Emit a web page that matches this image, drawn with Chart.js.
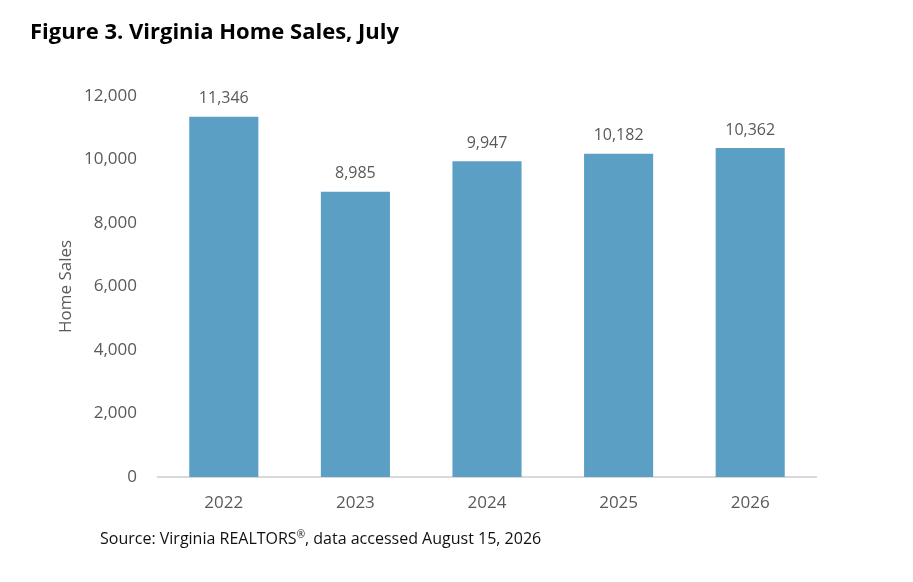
<!DOCTYPE html>
<html>
<head>
<meta charset="utf-8">
<script src="https://cdn.jsdelivr.net/npm/chart.js@4/dist/chart.umd.min.js"></script>
<style>
  html, body { margin: 0; padding: 0; background: #fff; }
  body { width: 913px; height: 582px; position: relative; overflow: hidden; font-family: "Open Sans", sans-serif; }
  #chartTitle { position: absolute; left: 30px; top: 15px; font-size: 22px; font-weight: bold; color: #000; white-space: nowrap; }
  #chartSource { position: absolute; left: 100px; top: 527px; font-size: 16px; color: #111; white-space: nowrap; }
  #chartBox { position: absolute; left: 0; top: 0; width: 913px; height: 582px; }
</style>
</head>
<body>
<div id="chartBox"><canvas id="salesChart"></canvas></div>
<div id="chartTitle">Figure 3. Virginia Home Sales, July</div>
<div id="chartSource">Source: Virginia REALTORS<sup style="font-size:10px">®</sup>, data accessed August 15, 2026</div>
<script>
const years = ["2022", "2023", "2024", "2025", "2026"];
const homeSales = [11346, 8985, 9947, 10182, 10362];
const yTicks = [0, 2000, 4000, 6000, 8000, 10000, 12000];

const tickColor = "#595959";
const barColor = "#5b9fc5";

// value labels above each bar
const barValueLabels = {
  id: "barValueLabels",
  afterDatasetsDraw(chart) {
    const ctx = chart.ctx;
    const meta = chart.getDatasetMeta(0);
    ctx.save();
    ctx.font = '16px "Open Sans"';
    ctx.fillStyle = tickColor;
    ctx.textAlign = "center";
    ctx.textBaseline = "middle";
    meta.data.forEach((bar, i) => {
      ctx.fillText(homeSales[i].toLocaleString("en-US"), bar.x, bar.y - 18);
    });
    ctx.restore();
  },
};

new Chart(document.getElementById("salesChart"), {
  type: "bar",
  data: {
    labels: years,
    datasets: [{
      label: "Home Sales",
      data: homeSales,
      backgroundColor: barColor,
      borderWidth: 0,
      categoryPercentage: 1,
      barPercentage: 0.525,
    }],
  },
  options: {
    responsive: true,
    maintainAspectRatio: false,
    animation: false,
    layout: { padding: { left: 0, top: 96, right: 97, bottom: 65 } },
    plugins: { legend: { display: false }, tooltip: { enabled: false } },
    scales: {
      x: {
        grid: { display: false },
        border: { display: true, color: "#d9d9d9", width: 2 },
        ticks: { color: tickColor, font: { family: "Open Sans", size: 17 }, padding: 8 },
        afterFit(scale) { scale.height = 40; },
      },
      y: {
        min: 0,
        max: 12000,
        afterBuildTicks(scale) { scale.ticks = yTicks.map((v) => ({ value: v })); },
        grid: { display: false },
        border: { display: false },
        ticks: {
          color: tickColor,
          font: { family: "Open Sans", size: 17 },
          padding: 13,
          callback: (v) => v.toLocaleString("en-US"),
        },
        title: {
          display: true,
          text: "Home Sales",
          color: tickColor,
          font: { family: "Open Sans", size: 17 },
          padding: { top: 56, bottom: 0 },
        },
        afterFit(scale) { scale.width = 158; },
      },
    },
  },
  plugins: [barValueLabels],
});
</script>
</body>
</html>
